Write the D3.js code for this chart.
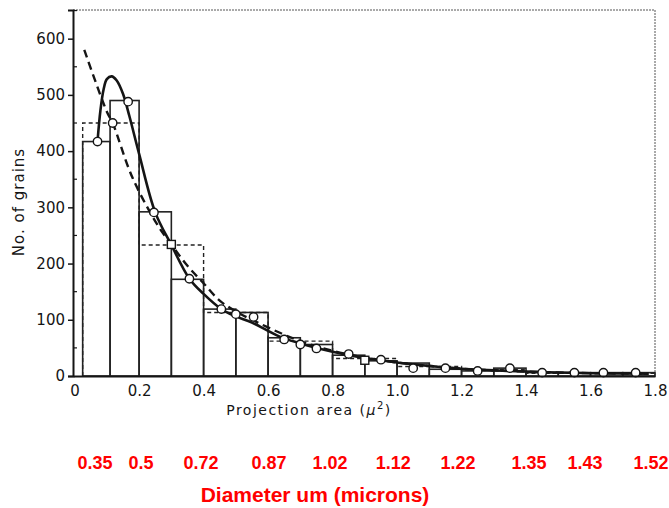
<!DOCTYPE html>
<html>
<head>
<meta charset="utf-8">
<script src="https://cdn.jsdelivr.net/npm/d3@7"></script>
<style>
  body { margin: 0; background: #fff; }
  svg { display: block; }
</style>
</head>
<body>
<div id="chart"></div>
<script>
// fine histogram (solid bars)
var binEdges  = [0.025, 0.11, 0.2, 0.3, 0.4, 0.5, 0.6, 0.7, 0.8, 0.9, 1.0, 1.1, 1.2, 1.3, 1.4, 1.5, 1.6, 1.7, 1.8];
var binCounts = [417, 490, 292, 172, 119, 113, 68, 56, 37, 27, 23, 12, 9, 14, 6, 6, 6, 6];
// coarse histogram (dashed steps)
var coarseEdges  = [0.025, 0.2, 0.4, 0.6, 0.8, 1.0, 1.2, 1.4, 1.8];
var coarseCounts = [450, 233, 113, 62, 31, 17, 11, 5];
// solid fitted curve
var fitX = [0.071, 0.08, 0.09, 0.1, 0.115, 0.13, 0.15, 0.17, 0.2, 0.25, 0.3, 0.356, 0.4, 0.455, 0.5, 0.55, 0.636, 0.7, 0.8, 0.9, 1.0, 1.1, 1.2, 1.4, 1.6, 1.78];
var fitY = [417, 472, 510, 528, 533, 526, 502, 462, 395, 291, 233, 173, 146, 119, 106, 95, 70, 58, 43, 32, 24, 18, 13, 8, 5, 4];
// dashed curve
var expX = [0.03, 0.1, 0.118, 0.18, 0.26, 0.3, 0.35, 0.4, 0.45, 0.5, 0.55, 0.64, 0.7, 0.8, 0.9, 1.0, 1.2, 1.4, 1.6, 1.78];
var expY = [580, 470, 450, 352, 266, 234, 196, 165, 134, 115, 100, 76, 62, 45, 33, 24, 13, 8, 5, 4];
// measured points
var ptX = [0.071, 0.118, 0.166, 0.246, 0.356, 0.455, 0.50, 0.555, 0.65, 0.70, 0.75, 0.85, 0.95, 1.05, 1.15, 1.25, 1.35, 1.45, 1.55, 1.64, 1.74];
var ptY = [417, 450, 488, 291, 173, 119, 110, 105, 65, 56, 49, 39, 29, 14, 14, 9, 14, 6, 6, 6, 6];
var sqX = [0.30, 0.90];
var sqY = [234, 28];
// axis ticks
var xTicks = [0, 0.2, 0.4, 0.6, 0.8, 1.0, 1.2, 1.4, 1.6, 1.8];
var yTicks = [0, 100, 200, 300, 400, 500, 600];
// diameter labels and the projection-area position under which each sits
var diamLabels = ["0.35", "0.5", "0.72", "0.87", "1.02", "1.12", "1.22", "1.35", "1.43", "1.52"];
var diamAt     = [0.063, 0.206, 0.392, 0.603, 0.792, 0.988, 1.189, 1.409, 1.583, 1.788];

var W = 669, H = 508;
var svg = d3.select("#chart").append("svg").attr("width", W).attr("height", H);

var x = d3.scaleLinear().domain([-0.005, 1.8]).range([73, 655]);
var y = d3.scaleLinear().domain([0, 651]).range([376, 10]);
var ink = "#151515";

// frame top / right (faint dotted)
svg.append("path")
  .attr("d", "M" + x(-0.005) + "," + y(651) + "H" + x(1.8) + "V" + y(0))
  .attr("fill", "none").attr("stroke", "#555").attr("stroke-width", 1)
  .attr("stroke-dasharray", "2,1");

// solid bars
var bars = binCounts.map(function(c, i) { return {x0: binEdges[i], x1: binEdges[i + 1], n: c}; });
svg.append("g").selectAll("rect")
  .data(bars)
  .enter().append("rect")
    .attr("x", function(d) { return x(d.x0); })
    .attr("y", function(d) { return y(d.n); })
    .attr("width", function(d) { return x(d.x1) - x(d.x0); })
    .attr("height", function(d) { return y(0) - y(d.n); })
    .attr("fill", "none")
    .attr("stroke", "#222")
    .attr("stroke-width", 1.6);

// coarse dashed histogram
var steps = [];
coarseCounts.forEach(function(c, i) {
  steps.push([coarseEdges[i], c]);
  steps.push([coarseEdges[i + 1], c]);
});
svg.append("path")
  .attr("d", "M" + x(coarseEdges[0]) + "," + y(0) + "L" +
       steps.map(function(p) { return x(p[0]) + "," + y(p[1]); }).join("L"))
  .attr("fill", "none").attr("stroke", "#222").attr("stroke-width", 1.4)
  .attr("stroke-dasharray", "4,3");

// curves
var line = d3.line()
  .x(function(d) { return x(d[0]); })
  .y(function(d) { return y(d[1]); })
  .curve(d3.curveCatmullRom.alpha(0.5));

svg.append("path")
  .datum(expX.map(function(v, i) { return [v, expY[i]]; }))
  .attr("d", line)
  .attr("fill", "none").attr("stroke", ink).attr("stroke-width", 2.4)
  .attr("stroke-dasharray", "8,5");

svg.append("path")
  .datum(fitX.map(function(v, i) { return [v, fitY[i]]; }))
  .attr("d", line)
  .attr("fill", "none").attr("stroke", ink).attr("stroke-width", 2.6);

// markers
svg.append("g").selectAll("circle")
  .data(ptX.map(function(v, i) { return [v, ptY[i]]; }))
  .enter().append("circle")
    .attr("cx", function(d) { return x(d[0]); })
    .attr("cy", function(d) { return y(d[1]); })
    .attr("r", 4.2)
    .attr("fill", "#fff").attr("stroke", ink).attr("stroke-width", 1.4);

svg.append("g").selectAll("rect")
  .data(sqX.map(function(v, i) { return [v, sqY[i]]; }))
  .enter().append("rect")
    .attr("x", function(d) { return x(d[0]) - 4; })
    .attr("y", function(d) { return y(d[1]) - 4; })
    .attr("width", 8).attr("height", 8)
    .attr("fill", "#fff").attr("stroke", ink).attr("stroke-width", 1.4);

// axes
var yAxis = svg.append("g")
  .attr("transform", "translate(" + x(-0.005) + ",0)")
  .call(d3.axisLeft(y).tickValues(yTicks).tickSize(5).tickPadding(3));
yAxis.select(".domain").attr("stroke", ink).attr("stroke-width", 2);
yAxis.selectAll(".tick line").attr("stroke", ink).attr("stroke-width", 1.5);
yAxis.selectAll("text").style("font-family", "DejaVu Sans").style("font-size", "15px").attr("fill", ink);

// minor ticks inside on y
svg.append("g").selectAll("line")
  .data(d3.range(50, 651, 100))
  .enter().append("line")
    .attr("x1", x(-0.005)).attr("x2", x(-0.005) + 4)
    .attr("y1", function(d) { return y(d); }).attr("y2", function(d) { return y(d); })
    .attr("stroke", ink).attr("stroke-width", 1.2);

var xAxis = svg.append("g")
  .attr("transform", "translate(0," + y(0) + ")")
  .call(d3.axisBottom(x).tickValues(xTicks).tickSize(0).tickPadding(9)
    .tickFormat(function(d) { return d === 0 ? "0" : d3.format(".1f")(d); }));
xAxis.select(".domain").attr("stroke", ink).attr("stroke-width", 2.2);
xAxis.selectAll("text").style("font-family", "DejaVu Sans").style("font-size", "15px").attr("fill", ink);

// axis titles
svg.append("text")
  .attr("transform", "translate(24,202) rotate(-90)")
  .attr("text-anchor", "middle")
  .style("font-family", "DejaVu Sans").style("font-size", "15px")
  .style("letter-spacing", "1px")
  .attr("fill", ink)
  .text("No. of grains");

var xt = svg.append("text")
  .attr("x", 309).attr("y", 415)
  .attr("text-anchor", "middle")
  .style("font-family", "DejaVu Sans").style("font-size", "14px")
  .style("letter-spacing", "1.5px")
  .attr("fill", ink);
xt.append("tspan").text("Projection area (");
xt.append("tspan").style("font-style", "italic").text("\u03bc");
xt.append("tspan").attr("dy", -6).style("font-size", "10px").text("2");
xt.append("tspan").attr("dy", 6).text(")");

// red diameter labels
svg.append("g").selectAll("text")
  .data(diamLabels)
  .enter().append("text")
    .attr("x", function(d, i) { return x(diamAt[i]); })
    .attr("y", 469)
    .attr("text-anchor", "middle")
    .style("font-family", "Liberation Sans, Arial, sans-serif")
    .style("font-weight", "bold").style("font-size", "18px")
    .attr("fill", "#ff0000")
    .text(function(d) { return d; });

svg.append("text")
  .attr("x", 315).attr("y", 502)
  .attr("text-anchor", "middle")
  .style("font-family", "Liberation Sans, Arial, sans-serif")
  .style("font-weight", "bold").style("font-size", "21px")
  .attr("fill", "#ff0000")
  .text("Diameter um (microns)");
</script>
</body>
</html>
